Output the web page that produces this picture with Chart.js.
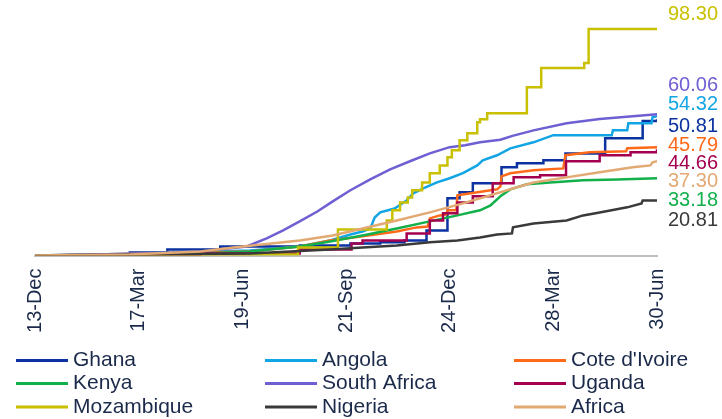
<!DOCTYPE html>
<html><head><meta charset="utf-8">
<script src="https://cdn.jsdelivr.net/npm/chart.js@4/dist/chart.umd.min.js"></script>
<style>html,body{margin:0;padding:0;background:#fff;}#wrap{width:722px;height:419px;}</style>
</head><body><div id="wrap"><canvas id="c" width="722" height="419"></canvas></div>
<script>
// x = day index from 13-Dec (ticks every 94 days), y = value
const tickLabels = ['13-Dec','17-Mar','19-Jun','21-Sep','24-Dec','28-Mar','30-Jun'];
const seriesNames = ['Ghana','Angola',"Cote d'Ivoire",'Kenya','South Africa','Uganda','Mozambique','Nigeria','Africa'];

const ghana = [[0,0],[59,0.4],[86,1.3],[120,2.6],[168,3.9],[240,4.3],[286,5.2],[313,5.7],[335,6.5],[355,10.9],[374,24.8],[385,27.4],[397,31.3],[423,38.3],[437,40.0],[461,41.3],[481,44.3],[517,50.9],[551,58.3],[564,59.1]];
const angola = [[0,0],[104,0.9],[195,2.2],[240,3.9],[267.5,6.5],[286,9.1],[297,10.4],[304,11.7],[308,16.5],[313,18.7],[326,20.4],[337,23.9],[343,27.0],[352,29.1],[364.5,31.7],[376,33.5],[388,35.7],[401,39.1],[406,41.3],[419,43.5],[431,46.5],[452,49.1],[470,52.2],[523,52.2],[524,54.3],[537,54.3],[538,57.4],[559,57.4],[560,60.0],[564,60.4]];
const coteDIvoire = [[0,0],[104,0.9],[195,1.7],[240,3.9],[267.5,6.5],[297,8.3],[328,10.4],[346,12.2],[356,12.6],[358,16.1],[367,17.4],[373,17.8],[374,19.6],[382,19.6],[383,26.1],[419,28.7],[422,30.0],[423,34.3],[431,35.7],[452,37.0],[479,37.8],[481,43.5],[503,44.8],[536,45.2],[537,46.5],[564,47.0]];
const kenya = [[0,0],[150,0.9],[195,1.7],[240,3.9],[267.5,6.1],[297,8.7],[328,11.7],[358,14.8],[383,17.4],[403.5,19.6],[413,21.7],[422,25.7],[431,28.7],[446,30.9],[467,31.7],[497,32.6],[528,33.0],[564,33.5]];
const southAfrica = [[0,0],[104,0.9],[150,1.7],[192,3.9],[210,7.4],[225,10.9],[240,14.8],[256,19.1],[270,23.5],[286,28.3],[304,33.0],[322,37.4],[340,40.9],[358,44.3],[376,47.0],[390,47.8],[403.5,49.1],[422,50.2],[433,51.9],[452,54.3],[482,57.4],[512,59.2],[542,60.4],[564,61.3]];
const uganda = [[0,0],[150,0.9],[240,2.6],[287,5.2],[297,6.5],[337,9.6],[358,15.2],[370,18.3],[383,23.0],[397,25.7],[415,31.3],[434,33.9],[458,34.8],[481.5,40.9],[512,43.5],[540,44.8],[564,46.1]];
const mozambique = [[0,0],[195,0.4],[238.5,3.5],[274.7,11.3],[319,15.2],[324,19.6],[331,23.0],[338,25.2],[342,28.3],[351,31.7],[358,35.7],[367,39.1],[374,42.6],[378,45.7],[385,50.0],[392,53.0],[401,57.8],[403.5,59.1],[410,61.7],[446,73.0],[459,81.3],[498,83.5],[502,98.3],[564,98.3]];
const nigeria = [[0,0],[195,0.9],[267.5,2.6],[297,3.5],[328,4.3],[358,5.7],[383,6.5],[403.5,7.8],[419,9.1],[432.5,9.6],[433.4,12.2],[452,13.9],[482,15.2],[497,17.4],[512,18.7],[537,20.9],[550,22.6],[551,23.9],[564,23.9]];
const africa = [[0,0],[86,0.4],[150,1.7],[180,3.5],[240,6.5],[270,8.7],[297,11.7],[328,15.2],[358,18.7],[388,22.6],[419,27.0],[437,29.6],[452,31.7],[482,33.9],[512,36.1],[542,38.3],[558,39.1],[560,40.4],[564,40.9]];

// end-of-line value labels (column at right), in display order
const endLabels = ['98.30','60.06','54.32','50.81','45.79','44.66','37.30','33.18','20.81'];
const endLabelSeries = ['Mozambique','South Africa','Angola','Ghana',"Cote d'Ivoire",'Uganda','Africa','Kenya','Nigeria'];

const seriesData = [ghana, angola, coteDIvoire, kenya, southAfrica, uganda, mozambique, nigeria, africa];
const colors = ['#0A32A0','#12A5E4','#FF6A1A','#12B04A','#6E5FD3','#A4004F','#C8C000','#3A3A3A','#E2A972'];
const labelColors = {'Mozambique':'#C8C000','South Africa':'#6E5FD3','Angola':'#12A5E4','Ghana':'#0A32A0',"Cote d'Ivoire":'#FF6A1A','Uganda':'#A4004F','Africa':'#E2A972','Kenya':'#12B04A','Nigeria':'#3A3A3A'};
const stepped = [true,false,false,false,false,true,true,false,false];

const FONT = "'Liberation Sans', Arial, sans-serif";
const TEXT = '#1B2A4A';

const datasets = seriesData.map((arr, i) => ({
  label: seriesNames[i],
  data: arr.map(([x, y]) => ({x, y})),
  borderColor: colors[i],
  backgroundColor: colors[i],
  borderWidth: 2.5,
  pointRadius: 0,
  fill: false,
  tension: 0,
  stepped: stepped[i],
  order: seriesData.length - i
}));

const extras = {
  id: 'extras',
  afterDraw(chart) {
    const ctx = chart.ctx;
    const area = chart.chartArea;
    ctx.save();
    ctx.font = '20px ' + FONT;
    ctx.textAlign = 'left';
    ctx.textBaseline = 'middle';
    const slotY = [14, 85, 104, 126, 145, 163, 181, 200, 220];
    endLabels.forEach((t, i) => {
      ctx.fillStyle = labelColors[endLabelSeries[i]];
      ctx.fillText(t, area.right + 11, slotY[i]);
    });
    const colX = [16, 265, 514];
    const rowY = [360.5, 383.5, 407];
    ctx.font = '21px ' + FONT;
    chart.data.datasets.forEach((ds, i) => {
      const cx = colX[i % 3], cy = rowY[Math.floor(i / 3)];
      ctx.strokeStyle = ds.borderColor;
      ctx.lineWidth = 3;
      ctx.beginPath();
      ctx.moveTo(cx, cy);
      ctx.lineTo(cx + 52, cy);
      ctx.stroke();
      ctx.fillStyle = TEXT;
      ctx.fillText(ds.label, cx + 57, cy);
    });
    ctx.restore();
  }
};

new Chart(document.getElementById('c'), {
  type: 'line',
  data: { datasets },
  options: {
    responsive: false,
    animation: false,
    devicePixelRatio: 1,
    layout: { padding: { left: 35, right: 65, top: 25, bottom: 73 } },
    plugins: { legend: { display: false }, tooltip: { enabled: false } },
    scales: {
      x: {
        type: 'linear', min: 0, max: 564,
        grid: { display: false, drawTicks: false },
        border: { display: true, color: '#BFBFBF', width: 2 },
        ticks: {
          stepSize: 94, autoSkip: false, minRotation: 90, maxRotation: 90, padding: 13,
          color: TEXT, font: { family: FONT, size: 20 },
          callback: (v) => tickLabels[Math.round(v / 94)]
        }
      },
      y: { display: false, min: 0, max: 100 }
    }
  },
  plugins: [extras]
});
</script></body></html>
